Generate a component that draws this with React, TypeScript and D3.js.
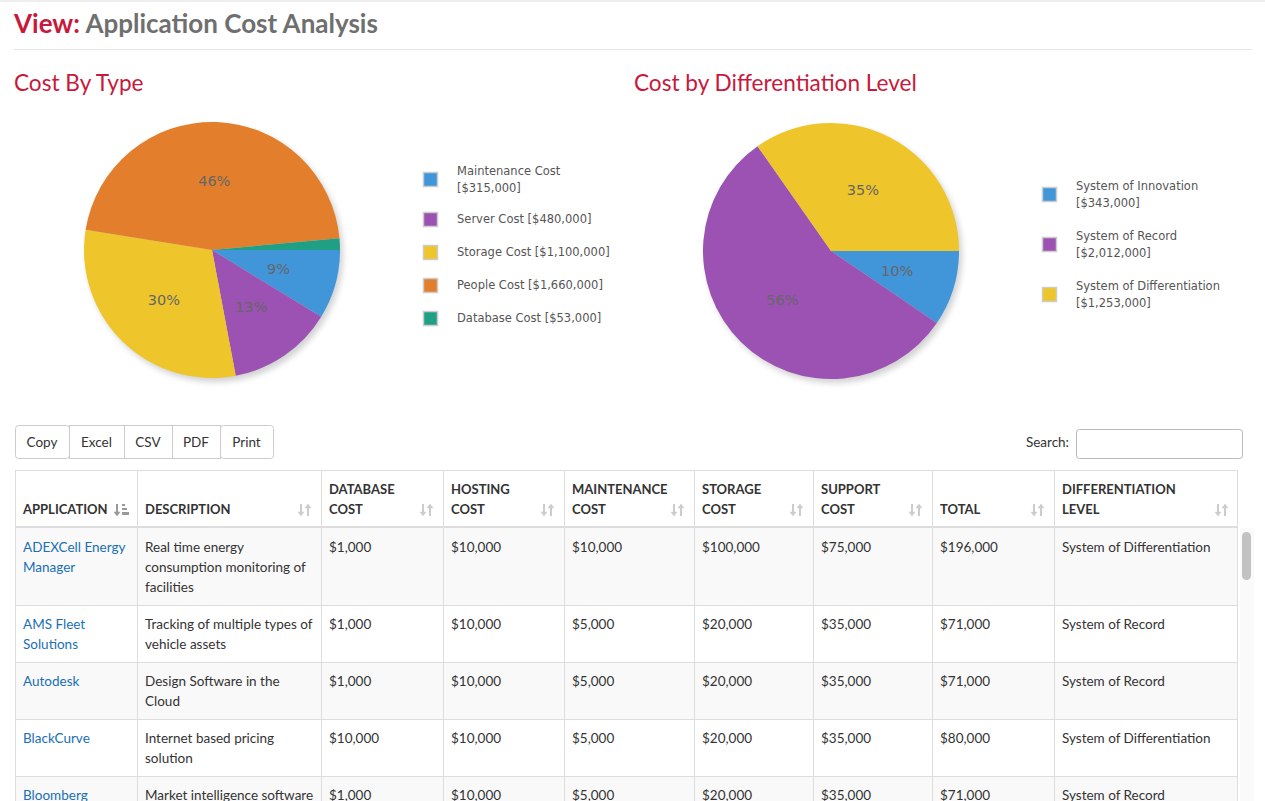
import React from "react";
import * as d3 from "d3";

const typeNames = ["Maintenance Cost", "Server Cost", "Storage Cost", "People Cost", "Database Cost"];
const typeValues = [315000, 480000, 1100000, 1660000, 53000];
const typeLegend = ["Maintenance Cost\n[$315,000]", "Server Cost [$480,000]", "Storage Cost [$1,100,000]", "People Cost [$1,660,000]", "Database Cost [$53,000]"];
const typeColors = ["#4195d9", "#9b52b3", "#eec52a", "#e37f2c", "#1fa085"];

const levelNames = ["System of Innovation", "System of Record", "System of Differentiation"];
const levelValues = [343000, 2012000, 1253000];
const levelLegend = ["System of Innovation\n[$343,000]", "System of Record\n[$2,012,000]", "System of Differentiation\n[$1,253,000]"];
const levelColors = ["#4195d9", "#9b52b3", "#eec52a"];

const headers = ["APPLICATION", "DESCRIPTION", "DATABASE\nCOST", "HOSTING\nCOST", "MAINTENANCE\nCOST", "STORAGE\nCOST", "SUPPORT\nCOST", "TOTAL", "DIFFERENTIATION\nLEVEL"];
const colEdges = [15, 137, 321, 443, 564, 694, 813, 932, 1054, 1238];
const rows = [
  ["ADEXCell Energy\nManager", "Real time energy\nconsumption monitoring of\nfacilities", "$1,000", "$10,000", "$10,000", "$100,000", "$75,000", "$196,000", "System of Differentiation"],
  ["AMS Fleet\nSolutions", "Tracking of multiple types of\nvehicle assets", "$1,000", "$10,000", "$5,000", "$20,000", "$35,000", "$71,000", "System of Record"],
  ["Autodesk", "Design Software in the\nCloud", "$1,000", "$10,000", "$5,000", "$20,000", "$35,000", "$71,000", "System of Record"],
  ["BlackCurve", "Internet based pricing\nsolution", "$10,000", "$10,000", "$5,000", "$20,000", "$35,000", "$80,000", "System of Differentiation"],
  ["Bloomberg", "Market intelligence software", "$1,000", "$10,000", "$5,000", "$20,000", "$35,000", "$71,000", "System of Record"],
];
const rowEdges = [528, 605, 662, 719, 776, 833];
const buttons = ["Copy", "Excel", "CSV", "PDF", "Print"];
const buttonEdges = [15, 69, 124, 172, 220, 273];

const red = "#c8193c";
const tableFont = "Lato, 'Open Sans', sans-serif";
const chartFont = "'DejaVu Sans', Verdana, sans-serif";

function Pie({cx, cy, r, values, colors, legend, lx, ly, gap, extra}: any) {
  const total = d3.sum(values as number[]);
  const arcs = d3.pie<number>().sort(null).startAngle(Math.PI / 2).endAngle(Math.PI / 2 + 2 * Math.PI)(values);
  const arc = d3.arc<any>().innerRadius(0).outerRadius(r);
  const lab = d3.arc<any>().innerRadius(r * 0.54).outerRadius(r * 0.54);
  let yAcc = ly;
  const legendY = legend.map((t: string) => {
    const y = yAcc;
    yAcc += gap + (t.includes("\n") ? extra : 0);
    return y;
  });
  return (
    <g>
      <circle cx={cx + 3} cy={cy + 4} r={r} fill="#000" opacity={0.18} filter="url(#blur)" />
      <g transform={`translate(${cx},${cy})`}>
        {arcs.map((a, i) => <path key={i} d={arc(a)!} fill={colors[i]} />)}
        {arcs.map((a, i) => {
          const p = a.value / total;
          if (p < 0.05) return null;
          const [x, y] = lab.centroid(a);
          return <text key={i} x={x} y={y} dy="0.35em" textAnchor="middle" fontSize={14.5} fill="#666" fontFamily={chartFont}>{Math.round(p * 100)}%</text>;
        })}
      </g>
      {legend.map((t: string, i: number) => (
        <g key={i} transform={`translate(${lx},${legendY[i]})`}>
          <rect x={0.5} y={0.5} width={14} height={14} fill={colors[i]} stroke="#ccc" strokeWidth={1.5} />
          {t.split("\n").map((s, j) => (
            <text key={j} x={34} y={t.includes("\n") ? 3 + j * 17 : 11} fontSize={11.5} fill="#555" fontFamily={chartFont}>{s}</text>
          ))}
        </g>
      ))}
    </g>
  );
}

function SortIcon({x, y, active}: any) {
  return (
    <g transform={`translate(${x},${y})`} fill={active ? "#999" : "#ccc"} stroke={active ? "#999" : "#ccc"} strokeWidth={2}>
      <line x1={2} y1={-12} x2={2} y2={-2} />
      <path d="M-1,-4 L2,0 L5,-4Z" strokeWidth={0.5} />
      {active ? (
        <g strokeWidth={0}>
          <rect x={7} y={-12} width={3} height={2} />
          <rect x={7} y={-8} width={5} height={2} />
          <rect x={7} y={-4} width={7} height={3} />
        </g>
      ) : (
        <g>
          <line x1={9} y1={-10} x2={9} y2={0} />
          <path d="M6,-8 L9,-12 L12,-8Z" strokeWidth={0.5} />
        </g>
      )}
    </g>
  );
}

export default function App() {
  const W = 1265, H = 801;
  return (
    <svg width={W} height={H} style={{position: "absolute", left: 0, top: 0, background: "#fff"}}>
      <defs>
        <filter id="blur"><feGaussianBlur stdDeviation={3} /></filter>
      </defs>
      <line x1={0} x2={W} y1={1} y2={1} stroke="#ddd" />
      <text x={14} y={33} fontSize={26} fontWeight={700} fontFamily={tableFont}>
        <tspan fill={red}>View: </tspan><tspan fill="#6f6f6f">Application Cost Analysis</tspan>
      </text>
      <line x1={14} x2={1252} y1={49.5} y2={49.5} stroke="#e5e5e5" />
      <text x={14} y={91} fontSize={22.6} fill={red} fontFamily={tableFont}>Cost By Type</text>
      <text x={634} y={91} fontSize={22.6} fill={red} fontFamily={tableFont}>Cost by Differentiation Level</text>

      <Pie cx={212} cy={250} r={128} values={typeValues} colors={typeColors} legend={typeLegend} lx={423} ly={172} gap={33} extra={7} />
      <Pie cx={831} cy={251} r={128} values={levelValues} colors={levelColors} legend={levelLegend} lx={1042} ly={187} gap={50} extra={0} />

      {buttons.map((b, i) => (
        <g key={b}>
          <rect x={buttonEdges[i] + 0.5} y={425.5} width={buttonEdges[i + 1] - buttonEdges[i]} height={33} fill="#fff" stroke="#ccc" rx={i === 0 || i === 4 ? 3 : 0} />
          <text x={(buttonEdges[i] + buttonEdges[i + 1]) / 2} y={447} textAnchor="middle" fontSize={13.5} fill="#333" fontFamily={tableFont}>{b}</text>
        </g>
      ))}
      <text x={1069} y={447} textAnchor="end" fontSize={13.5} fill="#333" fontFamily={tableFont}>Search:</text>
      <rect x={1076.5} y={429.5} width={166} height={29} rx={3} fill="#fff" stroke="#bbb" />

      {rows.map((r, i) => (
        <rect key={i} x={colEdges[0]} y={rowEdges[i]} width={colEdges[9] - colEdges[0]} height={rowEdges[i + 1] - rowEdges[i]} fill={i % 2 === 0 ? "#f9f9f9" : "#fff"} />
      ))}
      <rect x={15.5} y={470.5} width={1222} height={400} fill="none" stroke="#ddd" />
      {colEdges.slice(1, 9).map((x) => <line key={x} x1={x + 0.5} x2={x + 0.5} y1={471} y2={H} stroke="#ddd" />)}
      <line x1={15} x2={1238} y1={527} y2={527} stroke="#ddd" strokeWidth={2} />
      {rowEdges.slice(1, 5).map((y) => <line key={y} x1={15} x2={1238} y1={y + 0.5} y2={y + 0.5} stroke="#ddd" />)}

      {headers.map((h, i) => {
        const lines = h.split("\n");
        return (
          <g key={h}>
            {lines.map((s, j) => (
              <text key={j} x={colEdges[i] + 8} y={514 - (lines.length - 1 - j) * 20} fontSize={13} fontWeight={700} fill="#333" fontFamily={tableFont}>{s}</text>
            ))}
            {i !== 0 && <SortIcon x={colEdges[i + 1] - 22} y={516} active={false} />}
            {i === 0 && <SortIcon x={115} y={516} active={true} />}
          </g>
        );
      })}

      {rows.map((r, i) => r.map((c, k) => c.split("\n").map((s, j) => (
        <text key={`${i}-${k}-${j}`} x={colEdges[k] + 8} y={rowEdges[i] + 24 + j * 20} fontSize={13.5} fill={k === 0 ? "#1a6fb5" : "#333"} fontFamily={tableFont}>{s}</text>
      ))))}

      <rect x={1240} y={528} width={14} height={273} fill="#fafafa" />
      <rect x={1242} y={532} width={9} height={48} rx={4.5} fill="#c2c2c2" />
    </svg>
  );
}
